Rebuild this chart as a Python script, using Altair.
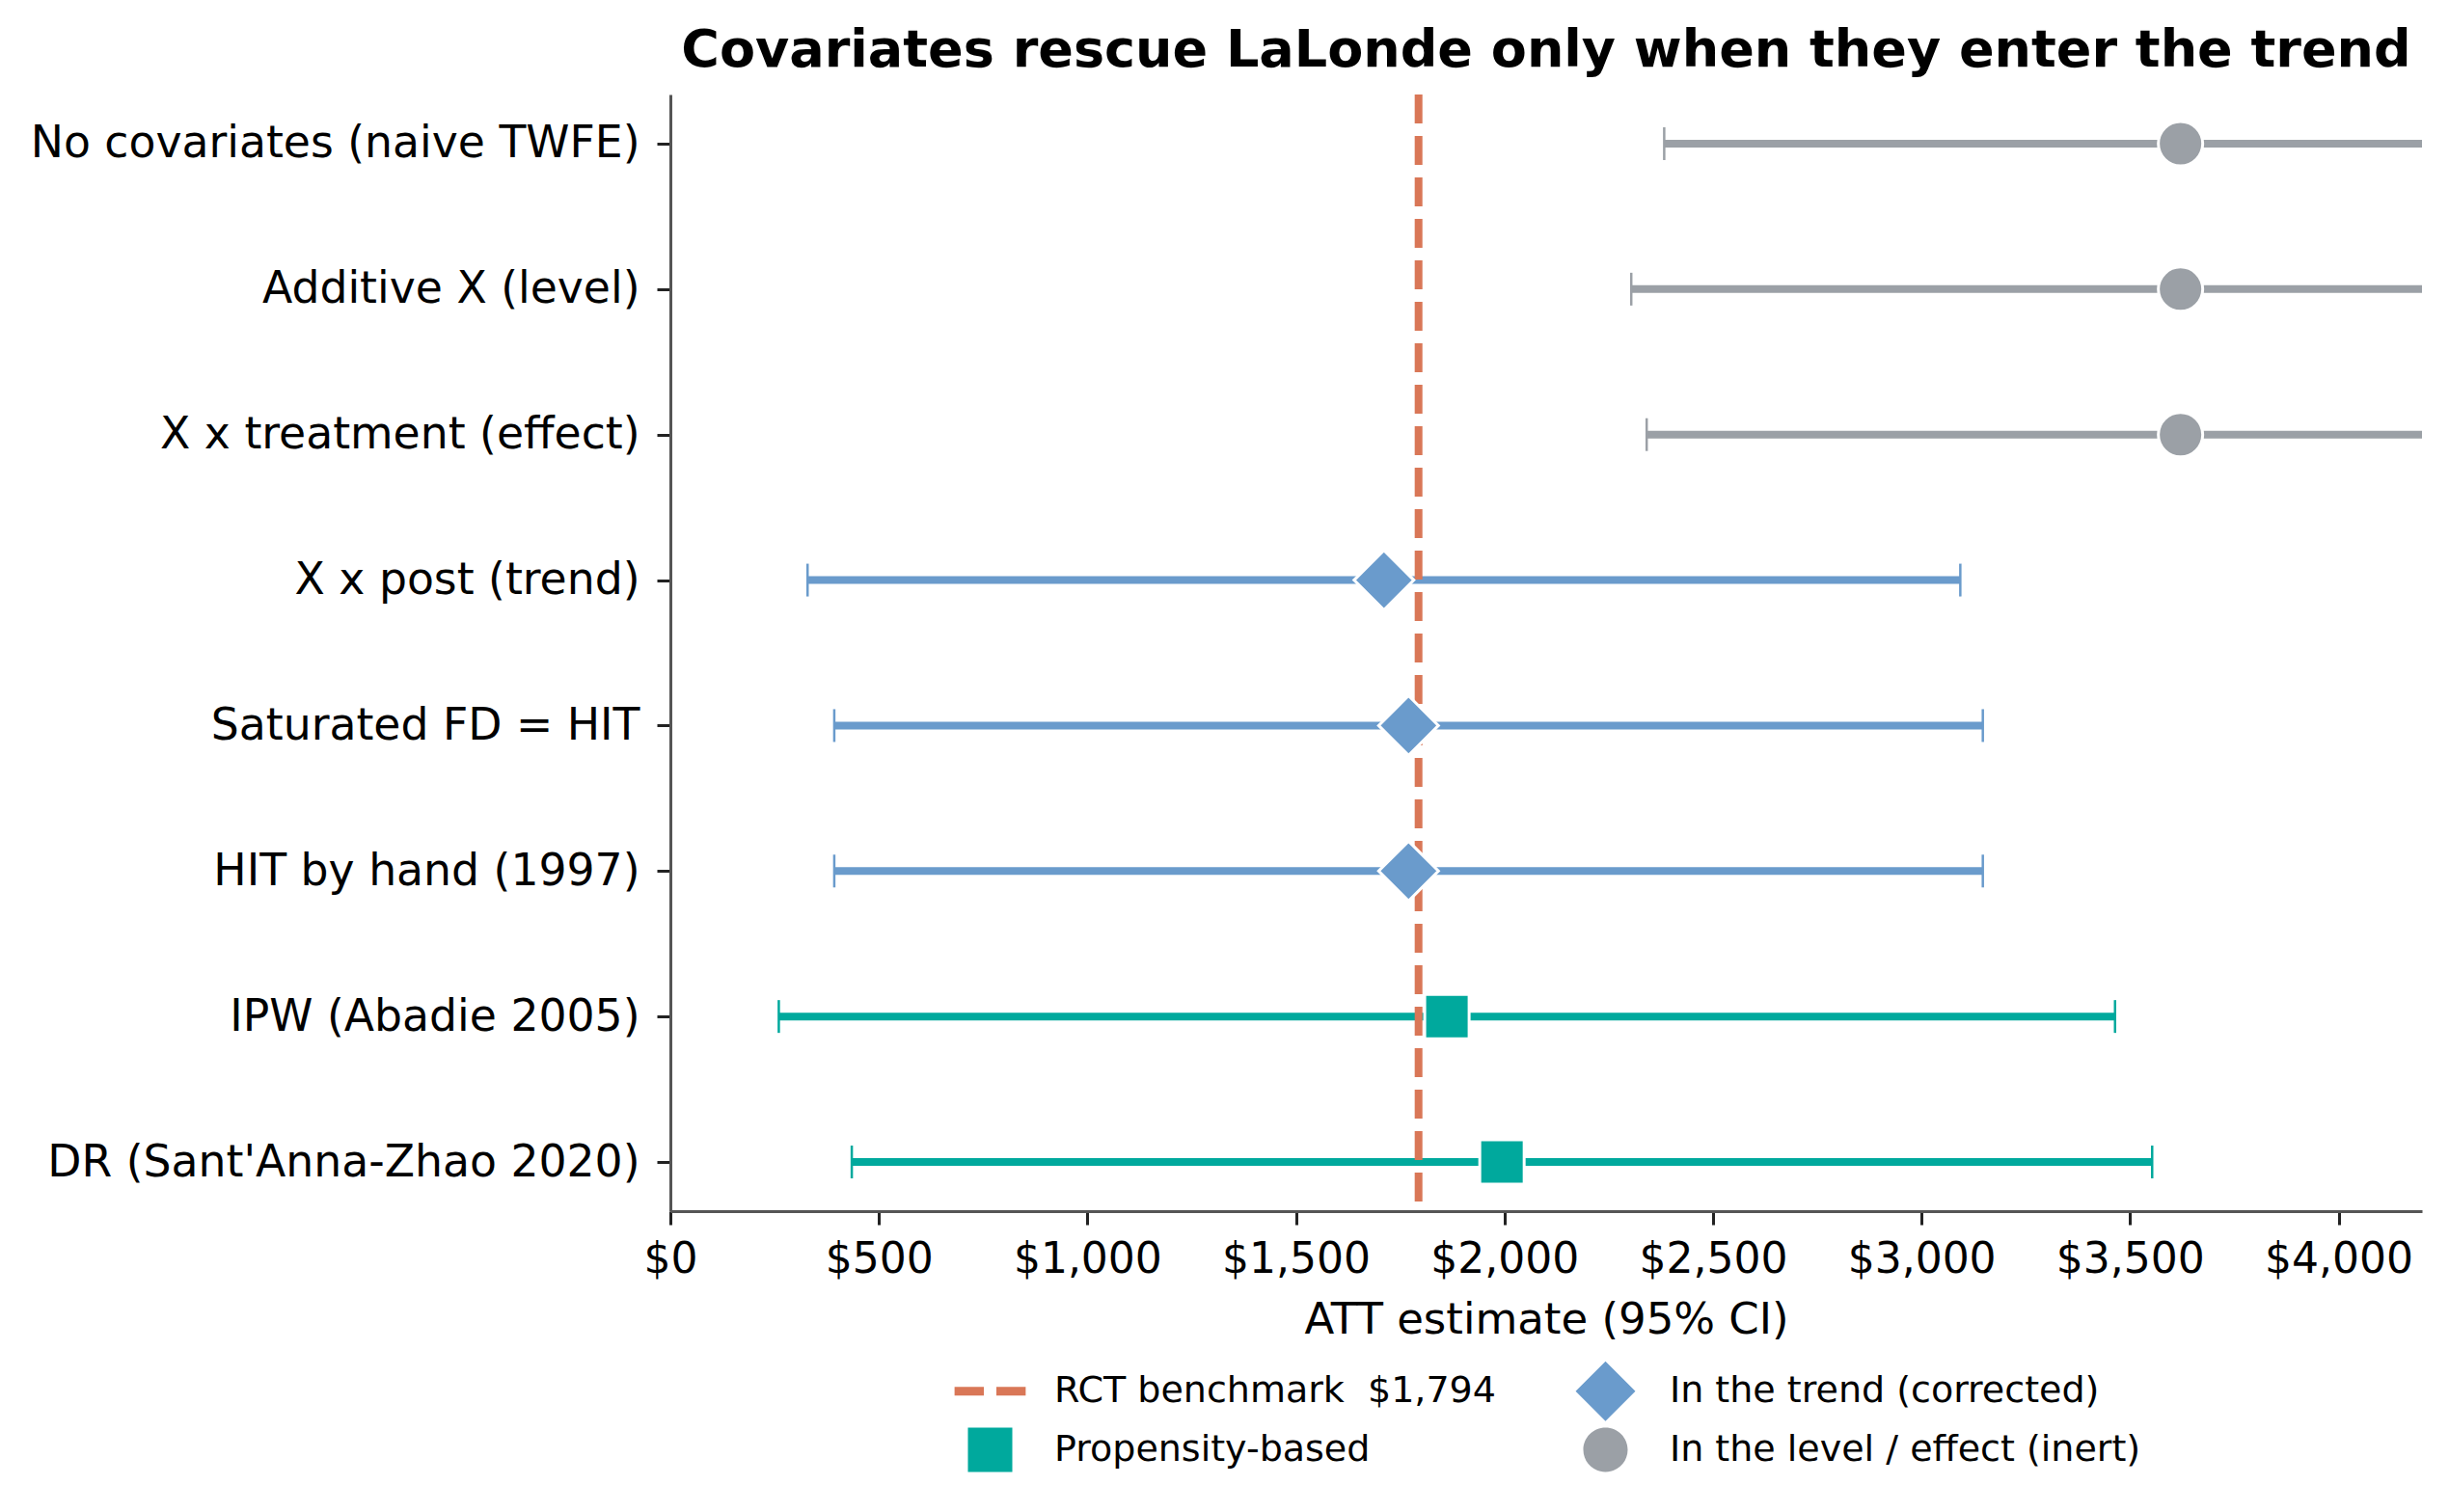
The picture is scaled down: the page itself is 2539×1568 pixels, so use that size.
import altair as alt
import pandas as pd

# ---- data ----
methods = [
    "No covariates (naive TWFE)",
    "Additive X (level)",
    "X x treatment (effect)",
    "X x post (trend)",
    "Saturated FD = HIT",
    "HIT by hand (1997)",
    "IPW (Abadie 2005)",
    "DR (Sant'Anna-Zhao 2020)",
]
estimates = [3621, 3621, 3621, 1711, 1770, 1770, 1862, 1994]
ci_low = [2383, 2304, 2341, 329, 393, 393, 260, 435]
ci_high = [4859, 4938, 4901, 3093, 3147, 3147, 3464, 3553]
groups = (["In the level / effect (inert)"] * 3
          + ["In the trend (corrected)"] * 3
          + ["Propensity-based"] * 2)
rct_benchmark = [1794]
x_ticks = [0, 500, 1000, 1500, 2000, 2500, 3000, 3500, 4000]

legend_labels = [
    "RCT benchmark\u00a0 $1,794",
    "Propensity-based",
    "In the trend (corrected)",
    "In the level / effect (inert)",
]
legend_colors = ["#D97757", "#00A99D", "#6A9BCC", "#9BA0A6"]
# every symbol shares the same (invisible) bounding box so legend rows align
BOX = "M-1.25,-1.05L-1.25,-1.05M1.25,1.05L1.25,1.05"
shape_paths = [
    "M-1.25,-0.15L-0.22,-0.15L-0.22,0.15L-1.25,0.15ZM0.22,-0.15L1.25,-0.15L1.25,0.15L0.22,0.15Z" + BOX,
    "M-0.78,-0.78L0.78,-0.78L0.78,0.78L-0.78,0.78Z" + BOX,
    "M0,-1.05L1.05,0L0,1.05L-1.05,0Z" + BOX,
    "M0.78,0A0.78,0.78,0,1,1,-0.78,0A0.78,0.78,0,1,1,0.78,0Z" + BOX,
]

color_of = dict(zip(legend_labels, legend_colors))

df = pd.DataFrame({
    "method": methods,
    "est": estimates,
    "lo": ci_low,
    "hi": ci_high,
    "group": groups,
})
df["hex"] = [color_of[g] for g in groups]
rct_df = pd.DataFrame({"rct": rct_benchmark})

FONT = "DejaVu Sans"

y_enc = alt.Y(
    "method:N",
    sort=methods,
    scale=alt.Scale(type="point", padding=0.338),
    axis=alt.Axis(
        title=None, labelFontSize=45.7, labelFont=FONT, labelColor="black",
        labelPadding=18, tickSize=14, tickWidth=3, tickColor="#222222",
        domainColor="#555555", domainWidth=3, labelLimit=0, grid=False,
    ),
)
x_scale = alt.Scale(domain=[0, 4200], nice=False, zero=False)
x_axis = alt.Axis(
    title="ATT estimate (95% CI)", values=x_ticks, format="$,.0f",
    labelFontSize=44, labelFont=FONT, labelColor="black", labelPadding=14,
    tickSize=14, tickWidth=3, tickColor="#222222",
    domainColor="#555555", domainWidth=3, grid=False,
    titleFontSize=45, titleFont=FONT, titleFontWeight="normal",
    titleColor="black", titlePadding=18, labelFlush=False,
)
color_scale = alt.Scale(domain=legend_labels, range=legend_colors)
shape_scale = alt.Scale(domain=legend_labels, range=shape_paths)

legend = alt.Legend(
    title=None, orient="none", legendX=302, legendY=1315,
    columns=2, symbolSize=3481, symbolStrokeWidth=0,
    symbolOpacity=1, labelFontSize=38, labelFont=FONT,
    labelColor="black", labelOffset=37, columnPadding=76,
    rowPadding=-3, padding=0, labelLimit=0,
)

base = alt.Chart(df)

bars = base.mark_rule(strokeWidth=8, clip=True).encode(
    x=alt.X("lo:Q", scale=x_scale, axis=x_axis),
    x2="hi:Q",
    y=y_enc,
    color=alt.Color("hex:N", scale=None),
)

caps = base.transform_fold(["lo", "hi"], as_=["end", "val"]).mark_tick(
    size=34, thickness=2.5, clip=True, opacity=1
).encode(
    x=alt.X("val:Q", scale=x_scale, axis=x_axis),
    y=y_enc,
    color=alt.Color("hex:N", scale=None),
)

rct = alt.Chart(rct_df).mark_rule(
    color="#D97757", strokeWidth=8, strokeDash=[30, 13]
).encode(x=alt.X("rct:Q", scale=x_scale, axis=x_axis))

points = base.mark_point(
    filled=True, size=3481, stroke="white", strokeWidth=3, opacity=1
).encode(
    x=alt.X("est:Q", scale=x_scale, axis=x_axis),
    y=y_enc,
    color=alt.Color("group:N", scale=color_scale, legend=legend),
    shape=alt.Shape("group:N", scale=shape_scale, legend=legend),
)

chart = alt.layer(bars, caps, rct, points).properties(
    width=1816,
    height=1158,
    title=alt.TitleParams(
        "Covariates rescue LaLonde only when they enter the trend",
        fontSize=54, font=FONT, fontWeight="bold", color="black",
        anchor="middle", frame="group", offset=14,
    ),
    padding={"left": 31, "top": 26, "right": 27, "bottom": 10},
    background="white",
).configure_view(stroke=None)

chart.save("out.html", embed_options={"renderer": "svg", "actions": False})
